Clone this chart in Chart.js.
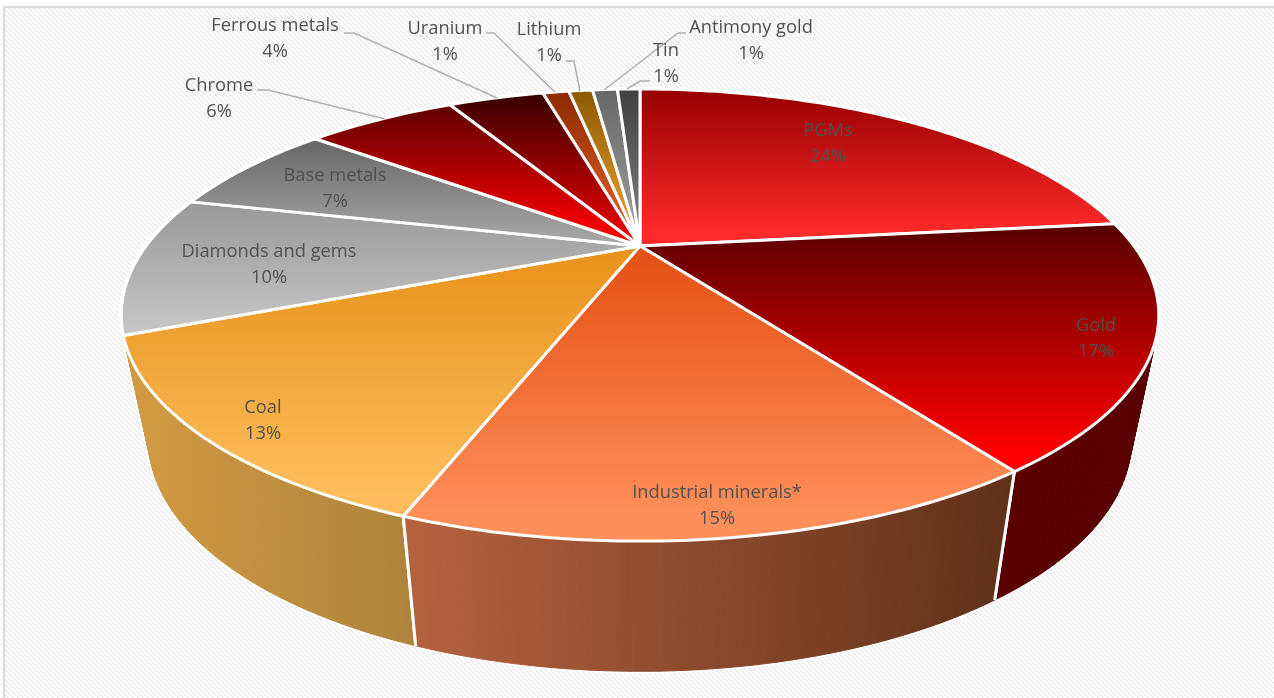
<!DOCTYPE html>
<html>
<head>
<meta charset="utf-8">
<title>Mining by commodity</title>
<script src="https://cdn.jsdelivr.net/npm/chart.js@4"></script>
<style>
  html, body { margin: 0; padding: 0; background: #fff; }
  canvas { display: block; }
</style>
</head>
<body>
<canvas id="pie3d" width="1274" height="698"></canvas>
<script>
// Values (the slice angles, so not quite the rounded labels)
const categories = ["PGMs", "Gold", "Industrial minerals*", "Coal", "Diamonds and gems", "Base metals",
  "Chrome", "Ferrous metals", "Uranium", "Lithium", "Antimony gold", "Tin"];
const shares = [23.2, 17.2, 15.15, 13.15, 10.0, 7.0, 6.2, 4.0, 1.1, 1.0, 1.05, 0.95];
const percentLabels = ["24%", "17%", "15%", "13%", "10%", "7%", "6%", "4%", "1%", "1%", "1%", "1%"];

// Slice colours: top face gradient, then side wall gradient
const topFrom = ["#960000", "#580000", "#e44f14", "#e8921a", "#989898", "#666666", "#5f0000", "#360000", "#8a2a00", "#8a5a00", "#666666", "#404040"];
const topTo = ["#ff2a2a", "#ff0000", "#ff8f5a", "#fdbd5c", "#c4c4c4", "#a4a4a4", "#ff0000", "#e80000", "#e8602a", "#f0a030", "#a0a0a0", "#808080"];
const wallFrom = ["#5a0000", "#5a0000", "#b5623f", "#d39b42", "#808080", "#606060", "#5a0000", "#300000", "#7a3000", "#7a5000", "#505050", "#303030"];
const wallTo = ["#5a0000", "#5a0000", "#5f3018", "#ad833c", "#808080", "#606060", "#5a0000", "#300000", "#7a3000", "#7a5000", "#505050", "#303030"];

// Perspective of the disc: apex, half widths, and how far the near edge swells
const top3d = { cx: 640, cy: 246, a: 494, k: 205 };
const bottom3d = { cx: 640, cy: 369, a: 468, k: 210 };
const tilt = 0.3054;
// the white edges between walls only show on this part of the circle
const frontStart = 0.42;
const frontEnd = Math.PI - 0.42;

function project(plane, t) {
  const w = 1 - tilt * Math.sin(t);
  return [plane.cx + plane.a * Math.cos(t) / w, plane.cy + plane.k * Math.sin(t) / w];
}

function rimPoints(plane, start, end) {
  const steps = Math.max(4, Math.ceil((end - start) / 0.02));
  const pts = [];
  for (let i = 0; i <= steps; i++) pts.push(project(plane, start + (end - start) * i / steps));
  return pts;
}

function tracePath(ctx, pts, close) {
  ctx.beginPath();
  pts.forEach((p, i) => i ? ctx.lineTo(p[0], p[1]) : ctx.moveTo(p[0], p[1]));
  if (close) ctx.closePath();
}

function extent(pts, axis) {
  const vals = pts.map(p => p[axis]);
  return [Math.min(...vals), Math.max(...vals)];
}

// the edge of the wall is swept out and is not either rim, so go quad by quad
function sweepWall(ctx, start, end, paint) {
  const upper = rimPoints(top3d, start, end);
  const lower = rimPoints(bottom3d, start, end);
  for (let i = 0; i < upper.length - 1; i++) {
    tracePath(ctx, [upper[i], upper[i + 1], lower[i + 1], lower[i]], true);
    paint();
  }
  return extent(upper.concat(lower), 0);
}

function drawWall(ctx, start, end, from, to) {
  const xr = extent(rimPoints(top3d, start, end).concat(rimPoints(bottom3d, start, end)), 0);
  const g = ctx.createLinearGradient(xr[0], 0, xr[1], 0);
  g.addColorStop(0, from);
  g.addColorStop(1, to);
  ctx.fillStyle = g;
  ctx.strokeStyle = g;
  ctx.lineWidth = 1;
  sweepWall(ctx, start, end, () => {
    ctx.fill();
    ctx.stroke();
  });
  ctx.strokeStyle = "#ffffff";
  ctx.lineWidth = 3;
  [start, end].forEach(t => {
    if (t > frontStart && t < frontEnd) {
      tracePath(ctx, [project(top3d, t), project(bottom3d, t)], false);
      ctx.stroke();
    }
  });
}

// Hatched chart area and its grey frame
const hatchBackground = {
  id: "hatchBackground",
  beforeDraw(chart) {
    const ctx = chart.ctx;
    const tile = document.createElement("canvas");
    tile.width = 5;
    tile.height = 5;
    const t = tile.getContext("2d");
    t.fillStyle = "#ffffff";
    t.fillRect(0, 0, 5, 5);
    t.fillStyle = "#ebebeb";
    for (let i = 0; i < 5; i++) {
      t.fillRect(i, i, 2, 1);
      if (i === 4) t.fillRect(0, 4, 1, 1);
    }
    ctx.save();
    ctx.fillStyle = ctx.createPattern(tile, "repeat");
    ctx.fillRect(5, 7, 1269, 691);
    ctx.strokeStyle = "#dddddd";
    ctx.lineWidth = 2.5;
    ctx.strokeRect(4, 7, 1280, 700);
    ctx.restore();
  }
};

// Chart.js works out the slice angles, this only bends them into the 3D view
const pie3d = {
  id: "pie3d",
  beforeDatasetsDraw(chart) {
    const ctx = chart.ctx;
    const arcs = chart.getDatasetMeta(0).data;
    ctx.save();
    ctx.lineJoin = "round";

    // white halo first, the walls then leave just its outer edge showing
    ctx.strokeStyle = "#ffffff";
    ctx.lineWidth = 4;
    arcs.forEach(arc => sweepWall(ctx, arc.startAngle, arc.endAngle, () => ctx.stroke()));

    const order = arcs.map((a, i) => i);
    order.sort((i, j) => Math.sin((arcs[i].startAngle + arcs[i].endAngle) / 2) - Math.sin((arcs[j].startAngle + arcs[j].endAngle) / 2));
    order.forEach(i => drawWall(ctx, arcs[i].startAngle, arcs[i].endAngle, wallFrom[i], wallTo[i]));

    ctx.strokeStyle = "#ffffff";
    ctx.lineWidth = 3;
    arcs.forEach((arc, i) => {
      const pts = [[top3d.cx, top3d.cy]].concat(rimPoints(top3d, arc.startAngle, arc.endAngle));
      const yr = extent(pts, 1);
      const g = ctx.createLinearGradient(0, yr[0], 0, yr[1]);
      g.addColorStop(0, topFrom[i]);
      g.addColorStop(0.92, topTo[i]);
      tracePath(ctx, pts, true);
      ctx.fillStyle = g;
      ctx.fill();
      ctx.stroke();
    });
    ctx.restore();
    return false;
  },
  afterDraw(chart) {
    const ctx = chart.ctx;
    const labelSpots = [[828, 131], [1096, 326], [717, 493], [263, 408], [269, 252], [335, 176],
      [219, 86], [275, 26], [445, 29], [549, 30], [751, 28], [666, 51]];
    const leaders = {
      6: [[257, 90], [268, 90], [385, 119]],
      7: [[344, 33], [354, 33], [497, 98]],
      8: [[486, 33], [494, 33], [555, 92]],
      9: [[566, 61], [574, 61], [580, 91]],
      10: [[686, 33], [678, 33], [604, 90]],
      11: [[650, 81], [640, 81], [627, 89]]
    };
    ctx.save();
    ctx.strokeStyle = "#b0b0b0";
    ctx.lineWidth = 1.5;
    Object.values(leaders).forEach(line => {
      tracePath(ctx, line, false);
      ctx.stroke();
    });
    ctx.fillStyle = "#505050";
    ctx.font = '18.3px "Open Sans"';
    ctx.textAlign = "center";
    ctx.textBaseline = "middle";
    categories.forEach((name, i) => {
      ctx.fillText(name, labelSpots[i][0], labelSpots[i][1]);
      ctx.fillText(percentLabels[i], labelSpots[i][0], labelSpots[i][1] + 25.5);
    });
    ctx.restore();
  }
};

new Chart(document.getElementById("pie3d"), {
  type: "pie",
  data: {
    labels: categories,
    datasets: [{ data: shares, backgroundColor: topTo, borderColor: "#ffffff", borderWidth: 2 }]
  },
  options: {
    responsive: false,
    animation: false,
    plugins: { legend: { display: false }, tooltip: { enabled: false } }
  },
  plugins: [hatchBackground, pie3d]
});
</script>
</body>
</html>
